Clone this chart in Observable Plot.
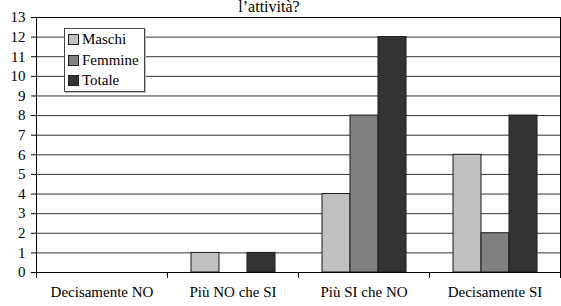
<!DOCTYPE html>
<html><head><meta charset="utf-8">
<script src="https://cdn.jsdelivr.net/npm/d3@7"></script>
<script src="https://cdn.jsdelivr.net/npm/@observablehq/plot@0.6"></script>
<style>
body{margin:0;background:#fff;}
#wrap{position:relative;width:561px;height:306px;overflow:hidden;font-family:"Liberation Serif","Times New Roman",serif;color:#000;}
#title{position:absolute;left:0;width:538px;top:0;height:14px;text-align:center;font-size:16px;line-height:13px;white-space:nowrap;}
#legend{position:absolute;left:64px;top:28px;width:79px;height:62px;border:1px solid #444;background:#fff;box-shadow:1px 1px 0 #bbb;font-size:15px;}
.item{position:absolute;left:3px;height:17px;line-height:17px;white-space:nowrap;}
.sw{display:inline-block;width:9px;height:9px;border:1px solid #222;margin-right:3px;vertical-align:-1px;}
</style></head><body><div id="wrap"><div id="title"></div><div id="legend"></div></div>
<script>
const categories = ["Decisamente NO", "Più NO che SI", "Più SI che NO", "Decisamente SI"];
const series = ["Maschi", "Femmine", "Totale"];
const maschi = [0, 1, 4, 6];
const femmine = [0, 0, 8, 2];
const totale = [0, 1, 12, 8];
const colors = ["#c0c0c0", "#808080", "#333333"];
const yTicks = [0,1,2,3,4,5,6,7,8,9,10,11,12,13];
const titleText = "l’attività?";

const valuesBySeries = [maschi, femmine, totale];
const data = [];
categories.forEach((c, i) => series.forEach((s, j) => data.push({cat: c, series: s, value: valuesBySeries[j][i]})));

const chart = Plot.plot({
  width: 561, height: 306,
  marginTop: 17, marginBottom: 34, marginLeft: 35, marginRight: 1,
  style: {fontFamily: '"Liberation Serif","Times New Roman",serif', fontSize: "15px", color: "#000", background: "#fff"},
  fx: {domain: categories, padding: 0, label: null, axis: "bottom", tickSize: 0, tickPadding: 14},
  x: {domain: series, paddingInner: 0, paddingOuter: 0.763, axis: null},
  y: {domain: [0, 13], ticks: yTicks, label: null, tickSize: 5, tickPadding: 6},
  color: {domain: series, range: colors},
  marks: [
    Plot.ruleY(yTicks, {stroke: "#333", strokeWidth: 1}),
    Plot.barY(data, {fx: "cat", x: "series", y: "value", fill: "series", stroke: "#1a1a1a", strokeWidth: 1}),
    Plot.frame({anchor: "left", insetTop: 255, insetBottom: -5, stroke: "#000"}),
    Plot.frame({anchor: "right", insetTop: 255, insetBottom: -5, stroke: "#000"}),
    Plot.frame({facet: "super", stroke: "#000", strokeWidth: 1})
  ]
});
document.getElementById("wrap").prepend(chart);
document.getElementById("title").textContent = titleText;
const lg = document.getElementById("legend");
series.forEach((s, j) => {
  const it = document.createElement("div");
  it.className = "item";
  it.style.top = (2 + j * 20.5) + "px";
  const sw = document.createElement("span");
  sw.className = "sw";
  sw.style.background = colors[j];
  it.appendChild(sw);
  it.appendChild(document.createTextNode(s));
  lg.appendChild(it);
});
</script></body></html>
